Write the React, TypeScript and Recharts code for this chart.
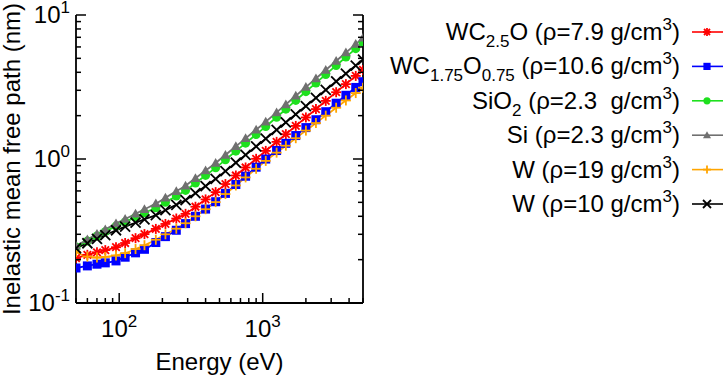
import { LineChart, Line, XAxis, YAxis } from "recharts";

// Energy grid (eV)
const energy = [
  50, 60, 70, 80, 95, 110, 130, 150, 180, 210, 250, 290, 340, 400, 470, 550,
  650, 760, 900, 1050, 1250, 1450, 1700, 2000, 2350, 2750, 3250, 3800, 4450,
  5000,
];

// IMFP (nm)
const wc25o = [
  0.205, 0.216, 0.225, 0.233, 0.244, 0.261, 0.282, 0.301, 0.327, 0.354, 0.386,
  0.416, 0.466, 0.524, 0.589, 0.67, 0.768, 0.873, 1.003, 1.138, 1.315, 1.487,
  1.697, 1.943, 2.222, 2.532, 2.909, 3.311, 3.775, 4.158,
];
const wc175o075 = [
  0.175, 0.181, 0.186, 0.19, 0.196, 0.208, 0.223, 0.236, 0.263, 0.289, 0.32,
  0.356, 0.4, 0.449, 0.505, 0.577, 0.665, 0.759, 0.877, 0.999, 1.145, 1.285,
  1.455, 1.652, 1.874, 2.13, 2.44, 2.77, 3.14, 3.44,
];
const sio2 = [
  0.245, 0.269, 0.292, 0.313, 0.342, 0.365, 0.395, 0.423, 0.458, 0.5, 0.553,
  0.605, 0.681, 0.769, 0.868, 0.988, 1.133, 1.288, 1.48, 1.679, 1.95, 2.22,
  2.553, 2.936, 3.373, 3.861, 4.458, 5.1, 5.84, 6.46,
];
const si = [
  0.25, 0.276, 0.301, 0.324, 0.356, 0.383, 0.417, 0.448, 0.49, 0.538, 0.597,
  0.653, 0.736, 0.831, 0.938, 1.067, 1.224, 1.391, 1.598, 1.813, 2.106, 2.393,
  2.745, 3.156, 3.626, 4.151, 4.792, 5.482, 6.279, 6.94,
];
const w19 = [
  0.226, 0.21, 0.207, 0.209, 0.214, 0.222, 0.237, 0.252, 0.275, 0.3, 0.328,
  0.358, 0.4, 0.448, 0.502, 0.571, 0.655, 0.745, 0.855, 0.97, 1.107, 1.237,
  1.394, 1.575, 1.777, 2.0, 2.27, 2.55, 2.87, 3.13,
];
const w10 = [
  0.24, 0.26, 0.279, 0.296, 0.32, 0.339, 0.361, 0.381, 0.408, 0.441, 0.481,
  0.518, 0.579, 0.649, 0.727, 0.824, 0.942, 1.068, 1.222, 1.383, 1.593, 1.796,
  2.043, 2.331, 2.657, 3.017, 3.454, 3.922, 4.457, 4.897,
];

const xTicks = [
  50, 60, 70, 80, 90, 100, 200, 300, 400, 500, 600, 700, 800, 900, 1000, 2000,
  3000, 4000, 5000,
];
const xMajor = [100, 1000];
const yTicks = [
  0.1, 0.2, 0.3, 0.4, 0.5, 0.6, 0.7, 0.8, 0.9, 1, 2, 3, 4, 5, 6, 7, 8, 9, 10,
];
const yMajor = [0.1, 1, 10];

const FONT = "'Liberation Sans', Arial, Helvetica, sans-serif";

type Seg = { t: string; s?: "sub" | "sup" };

const series: {
  key: string;
  color: string;
  marker: string;
  label: Seg[];
}[] = [
  {
    key: "wc25o",
    color: "#ff0000",
    marker: "star",
    label: [
      { t: "WC" },
      { t: "2.5", s: "sub" },
      { t: "O (ρ=7.9 g/cm" },
      { t: "3", s: "sup" },
      { t: ")" },
    ],
  },
  {
    key: "wc175o075",
    color: "#0000ff",
    marker: "square",
    label: [
      { t: "WC" },
      { t: "1.75", s: "sub" },
      { t: "O" },
      { t: "0.75", s: "sub" },
      { t: " (ρ=10.6 g/cm" },
      { t: "3", s: "sup" },
      { t: ")" },
    ],
  },
  {
    key: "sio2",
    color: "#1ee01e",
    marker: "circle",
    label: [
      { t: "SiO" },
      { t: "2", s: "sub" },
      { t: " (ρ=2.3  g/cm" },
      { t: "3", s: "sup" },
      { t: ")" },
    ],
  },
  {
    key: "si",
    color: "#707070",
    marker: "triangle",
    label: [{ t: "Si (ρ=2.3 g/cm" }, { t: "3", s: "sup" }, { t: ")" }],
  },
  {
    key: "w19",
    color: "#ffa500",
    marker: "plus",
    label: [{ t: "W (ρ=19 g/cm" }, { t: "3", s: "sup" }, { t: ")" }],
  },
  {
    key: "w10",
    color: "#000000",
    marker: "cross",
    label: [{ t: "W (ρ=10 g/cm" }, { t: "3", s: "sup" }, { t: ")" }],
  },
];

const data = energy.map((e, i) => ({
  energy: e,
  wc25o: wc25o[i],
  wc175o075: wc175o075[i],
  sio2: sio2[i],
  si: si[i],
  w19: w19[i],
  w10: w10[i],
}));

function Marker({
  cx,
  cy,
  kind,
  color,
  r = 5,
}: {
  cx: number;
  cy: number;
  kind: string;
  color: string;
  r?: number;
}) {
  const sw = 1.8;
  switch (kind) {
    case "star":
      return (
        <g stroke={color} strokeWidth={sw}>
          <line x1={cx - r} y1={cy} x2={cx + r} y2={cy} />
          <line x1={cx} y1={cy - r} x2={cx} y2={cy + r} />
          <line x1={cx - r * 0.75} y1={cy - r * 0.75} x2={cx + r * 0.75} y2={cy + r * 0.75} />
          <line x1={cx - r * 0.75} y1={cy + r * 0.75} x2={cx + r * 0.75} y2={cy - r * 0.75} />
        </g>
      );
    case "square":
      return <rect x={cx - r * 0.9} y={cy - r * 0.9} width={r * 1.8} height={r * 1.8} fill={color} />;
    case "circle":
      return <circle cx={cx} cy={cy} r={r * 0.9} fill={color} />;
    case "triangle":
      return (
        <polygon
          points={`${cx},${cy - r} ${cx - r},${cy + r * 0.75} ${cx + r},${cy + r * 0.75}`}
          fill={color}
        />
      );
    case "plus":
      return (
        <g stroke={color} strokeWidth={sw}>
          <line x1={cx - r} y1={cy} x2={cx + r} y2={cy} />
          <line x1={cx} y1={cy - r} x2={cx} y2={cy + r} />
        </g>
      );
    default:
      return (
        <g stroke={color} strokeWidth={sw}>
          <line x1={cx - r} y1={cy - r} x2={cx + r} y2={cy + r} />
          <line x1={cx - r} y1={cy + r} x2={cx + r} y2={cy - r} />
        </g>
      );
  }
}

function expOf(v: number) {
  return String(Math.round(Math.log10(v)));
}

function BottomTick(props: any) {
  const { x, y, payload } = props;
  const major = xMajor.includes(payload.value);
  return (
    <g>
      <line x1={x} y1={y} x2={x} y2={y - (major ? 10 : 5)} stroke="#000" strokeWidth={1.5} />
      {major && (
        <text x={x} y={y + 34} textAnchor="middle" fontSize={24} fontFamily={FONT} fill="#000">
          10
          <tspan dy={-10} fontSize={17}>
            {expOf(payload.value)}
          </tspan>
        </text>
      )}
    </g>
  );
}

function TopTick(props: any) {
  const { x, y, payload } = props;
  const major = xMajor.includes(payload.value);
  return <line x1={x} y1={y} x2={x} y2={y + (major ? 10 : 5)} stroke="#000" strokeWidth={1.5} />;
}

function LeftTick(props: any) {
  const { x, y, payload } = props;
  const major = yMajor.includes(payload.value);
  return (
    <g>
      <line x1={x} y1={y} x2={x + (major ? 10 : 5)} y2={y} stroke="#000" strokeWidth={1.5} />
      {major && (
        <text x={x - 6} y={y + 8} textAnchor="end" fontSize={24} fontFamily={FONT} fill="#000">
          10
          <tspan dy={-10} fontSize={17}>
            {expOf(payload.value)}
          </tspan>
        </text>
      )}
    </g>
  );
}

function RightTick(props: any) {
  const { x, y, payload } = props;
  const major = yMajor.includes(payload.value);
  return <line x1={x} y1={y} x2={x - (major ? 10 : 5)} y2={y} stroke="#000" strokeWidth={1.5} />;
}

function LegendText({ segs, x, y }: { segs: Seg[]; x: number; y: number }) {
  let shift = 0;
  return (
    <text x={x} y={y} textAnchor="end" fontSize={24} fontFamily={FONT} fill="#000" style={{ whiteSpace: "pre" }}>
      {segs.map((s, i) => {
        const target = s.s === "sub" ? 7 : s.s === "sup" ? -10 : 0;
        const dy = target - shift;
        shift = target;
        return (
          <tspan key={i} dy={dy} fontSize={s.s ? 17 : 24}>
            {s.t}
          </tspan>
        );
      })}
    </text>
  );
}

function PlotLegend() {
  return (
    <svg
      width={343}
      height={230}
      style={{ position: "absolute", left: 380, top: 0, pointerEvents: "none" }}
    >
      {series.map((s, i) => {
        const cy = 32 + i * 34.4;
        return (
          <g key={s.key}>
            <LegendText segs={s.label} x={300} y={cy + 8} />
            <line x1={312} y1={cy} x2={343} y2={cy} stroke={s.color} strokeWidth={1.6} />
            <Marker cx={327} cy={cy} kind={s.marker} color={s.color} r={4} />
          </g>
        );
      })}
    </svg>
  );
}

export default function App() {
  return (
    <div style={{ position: "absolute", left: 0, top: 0, width: 723, height: 378, background: "#fff" }}>
      <LineChart width={723} height={378} data={data} margin={{ top: 15, right: 0, bottom: 0, left: 0 }}>
        <XAxis
          dataKey="energy"
          type="number"
          scale="log"
          domain={[50, 5000]}
          allowDataOverflow
          ticks={xTicks}
          interval={0}
          tickSize={0}
          tickMargin={0}
          height={75}
          tick={<BottomTick />}
          axisLine={{ stroke: "#000", strokeWidth: 1.8 }}
          label={{
            content: (p: any) => (
              <text
                x={p.viewBox.x + p.viewBox.width / 2}
                y={p.viewBox.y + 67}
                textAnchor="middle"
                fontSize={24}
                fontFamily={FONT}
                fill="#000"
              >
                Energy (eV)
              </text>
            ),
          }}
        />
        <XAxis
          xAxisId="top"
          orientation="top"
          dataKey="energy"
          type="number"
          scale="log"
          domain={[50, 5000]}
          allowDataOverflow
          ticks={xTicks}
          interval={0}
          tickSize={0}
          tickMargin={0}
          height={0}
          tick={<TopTick />}
          axisLine={{ stroke: "#000", strokeWidth: 1.8 }}
        />
        <YAxis
          type="number"
          scale="log"
          domain={[0.1, 10]}
          allowDataOverflow
          ticks={yTicks}
          interval={0}
          tickSize={0}
          tickMargin={0}
          width={76}
          tick={<LeftTick />}
          axisLine={{ stroke: "#000", strokeWidth: 1.8 }}
          label={{
            content: (p: any) => {
              const cx = p.viewBox.x + 20;
              const cy = p.viewBox.y + p.viewBox.height / 2;
              return (
                <text
                  x={cx}
                  y={cy}
                  transform={`rotate(-90 ${cx} ${cy})`}
                  textAnchor="middle"
                  fontSize={24}
                  fontFamily={FONT}
                  fill="#000"
                >
                  Inelastic mean free path (nm)
                </text>
              );
            },
          }}
        />
        <YAxis
          yAxisId="right"
          orientation="right"
          type="number"
          scale="log"
          domain={[0.1, 10]}
          allowDataOverflow
          ticks={yTicks}
          interval={0}
          tickSize={0}
          tickMargin={0}
          width={360}
          tick={<RightTick />}
          axisLine={{ stroke: "#000", strokeWidth: 1.8 }}
        />
        {series.map((s) => (
          <Line
            key={s.key}
            dataKey={s.key}
            stroke={s.color}
            strokeWidth={1.8}
            type="monotone"
            isAnimationActive={false}
            dot={(p: any) =>
              p.cx == null || p.cy == null ? (
                <g key={`${s.key}-${p.index}`} />
              ) : (
                <Marker key={`${s.key}-${p.index}`} cx={p.cx} cy={p.cy} kind={s.marker} color={s.color} />
              )
            }
            activeDot={false}
          />
        ))}
      </LineChart>
      <PlotLegend />
    </div>
  );
}
